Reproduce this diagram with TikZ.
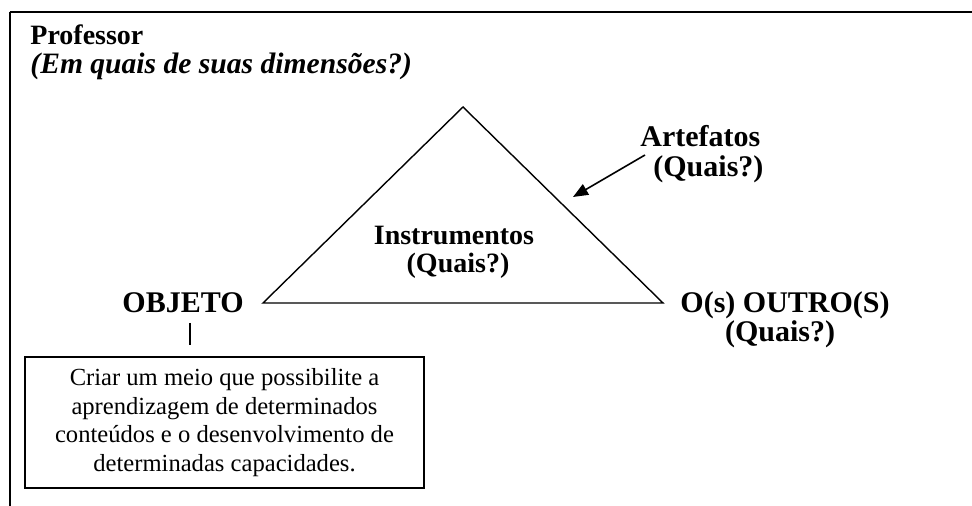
\documentclass[tikz,border=0pt]{standalone}
\usepackage{fontspec}
\setmainfont{Liberation Serif}
\usetikzlibrary{arrows.meta}

\tikzset{
  head/.style={font=\fontsize{14}{16}\selectfont\bfseries, inner sep=0pt},
  bighead/.style={font=\fontsize{15}{17}\selectfont\bfseries, inner sep=0pt},
  headit/.style={font=\fontsize{14.8}{17}\selectfont\bfseries\itshape, inner sep=0pt},
  objbox/.style={draw, line width=0.75pt, minimum width=199.5pt, minimum height=65.5pt,
    align=center, font=\fontsize{12.3}{14.3}\selectfont, inner sep=0pt}
}

\begin{document}
\begin{tikzpicture}[x=0.5pt, y=-0.5pt]
  \useasboundingbox (0,0) rectangle (972,506);
  % Frame
  \draw[line width=0.6pt] (10,506) -- (10,12);
  \draw[line width=1pt] (9.7,12) -- (972,12);

  % Title
  \node[head, anchor=base west] (prof) at (30,45) {Professor};
  \node[headit, anchor=base west] (dimens) at (30,74) {(Em quais de suas dimensões?)};

  % Triangle
  \coordinate (apex) at (463,107);
  \coordinate (lbase) at (263,303);
  \coordinate (rbase) at (663,303);
  \draw[line width=0.7pt, line join=miter] (lbase) -- (apex) -- (rbase) -- cycle;

  % Inside the triangle
  \node[head, anchor=base] (instr) at (454,245) {Instrumentos};
  \node[head, anchor=base] (instrq) at (458,273) {(Quais?)};

  % Artefatos
  \node[bighead, anchor=base west] (artef) at (640,147) {Artefatos};
  \node[bighead, anchor=base west] (artefq) at (653,177) {(Quais?)};
  \coordinate (arrstart) at (645,155);
  \coordinate (arrtip) at (573,197);
  \draw[line width=0.8pt, -{Triangle[length=7.5pt,width=6pt]}] (arrstart) -- (arrtip);

  % Corners
  \node[bighead, anchor=base] (objeto) at (183,313) {OBJETO};
  \node[bighead, anchor=base] (outro) at (785,313) {O(s) OUTRO(S)};
  \node[bighead, anchor=base] (outroq) at (780,342) {(Quais?)};

  % Objective box
  \node[objbox] (meta) at (224.5,422.5) {Criar um meio que possibilite a\\
    aprendizagem de determinados\\
    conteúdos e o desenvolvimento de\\
    determinadas capacidades.};
  \coordinate (tick) at (190,345);
  \draw[line width=0.7pt] (tick |- 0,323) -- (tick);
\end{tikzpicture}
\end{document}
